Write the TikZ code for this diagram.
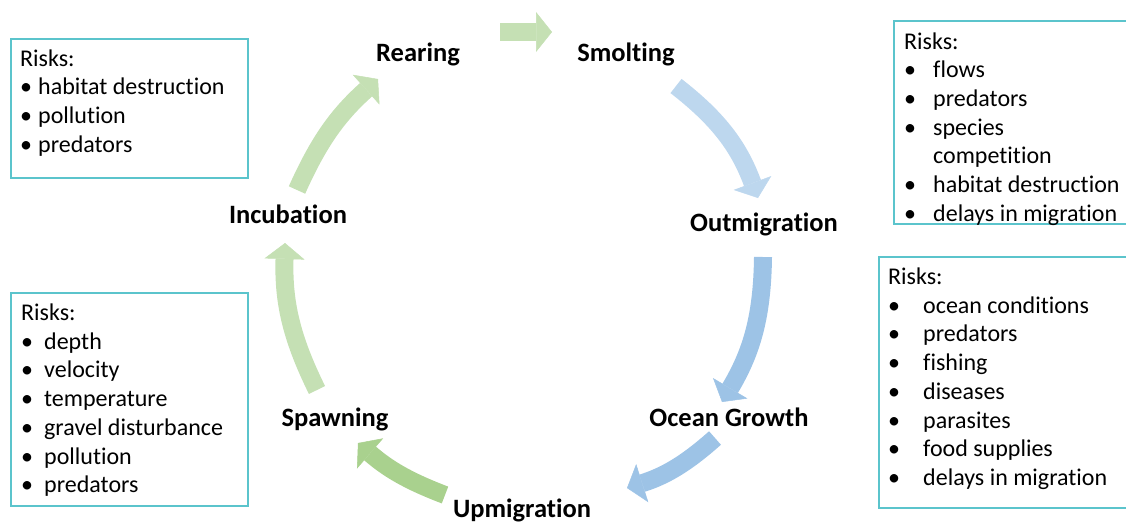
\documentclass[tikz,border=0pt]{standalone}
\usepackage{fontspec}
\setmainfont{Carlito}[Ligatures=NoCommon]
\usetikzlibrary{arrows.meta}
\definecolor{boxc}{RGB}{91,196,204}
\definecolor{gA}{HTML}{C5E0B4}
\definecolor{gB}{HTML}{A9D18E}
\definecolor{bA}{HTML}{BDD7EE}
\definecolor{bB}{HTML}{9DC3E6}
\newcommand{\bul}[1]{\makebox[#1][l]{\textbullet}}
\begin{document}
\begin{tikzpicture}[x=1pt,y=1pt,
  stage/.style={font=\fontsize{26.5}{30}\selectfont\bfseries, anchor=base, inner sep=0pt},
  risk/.style={font=\fontsize{24}{28.8}\selectfont, anchor=base west, inner sep=0pt},
  riskbox/.style={draw=boxc, line width=1.5pt, anchor=north west, inner sep=0pt},
  flow/.style={line width=18pt, -{Triangle[width=40pt,length=16pt,line width=0.5pt]}},
]
\useasboundingbox (0,0) rectangle (1126,-523);

% risk boxes
\node[riskbox, minimum width=237pt, minimum height=139pt] (tlbox) at (10,-38) {};
\node[riskbox, minimum width=240pt, minimum height=203pt] (trbox) at (893,-20) {};
\node[riskbox, minimum width=237pt, minimum height=213pt] (blbox) at (10,-292) {};
\node[riskbox, minimum width=255pt, minimum height=251pt] (mrbox) at (878,-256) {};

% top-left risks
\node[risk] (tlh) at (20,-66) {Risks:};
\foreach \t [count=\i] in {habitat destruction,pollution,predators}
  \node[risk] (tl\i) at (20,{-66-28.7*\i}) {\bul{18pt}\t};

% top-right risks
\node[risk] (trh) at (904,-49) {Risks:};
\node[risk] (tr1) at (904,-77.7) {\bul{29pt}flows};
\node[risk] (tr2) at (904,-106.4) {\bul{29pt}predators};
\node[risk] (tr3) at (904,-135.1) {\bul{29pt}species};
\node[risk] (tr4) at (904,-163.8) {\hspace{29pt}competition};
\node[risk] (tr5) at (904,-192.5) {\bul{29pt}habitat destruction};
\node[risk] (tr6) at (904,-221.2) {\bul{29pt}delays in migration};

% bottom-left risks
\node[risk] (blh) at (21,-320.5) {Risks:};
\foreach \t [count=\i] in {depth,velocity,temperature,gravel disturbance,pollution,predators}
  \node[risk] (bl\i) at (21,{-320.5-28.7*\i}) {\bul{23pt}\t};

% middle-right risks
\node[risk] (mrh) at (888,-284.5) {Risks:};
\foreach \t [count=\i] in {ocean conditions,predators,fishing,diseases,parasites,food supplies,delays in migration}
  \node[risk] (mr\i) at (888,{-284.5-28.7*\i}) {\bul{35pt}\t};

% stages
\node[stage] (rear) at (418,-61) {Rearing};
\node[stage] (smolt) at (626,-61) {Smolting};
\node[stage] (outm) at (764,-231) {Outmigration};
\node[stage] (ocean) at (729,-426) {Ocean Growth};
\node[stage] (upm) at (522,-517) {Upmigration};
\node[stage] (spawn) at (335,-426) {Spawning};
\node[stage] (incub) at (288,-223) {Incubation};

% arrow end points
\coordinate (a1s) at (500,-32);   \coordinate (a1e) at (552,-32);
\coordinate (a2s) at (676,-86);   \coordinate (a2e) at (758,-198);
\coordinate (a3s) at (763,-257);  \coordinate (a3e) at (722,-402);
\coordinate (a4s) at (715,-438);  \coordinate (a4e) at (627,-488);
\coordinate (a5s) at (445,-495);  \coordinate (a5e) at (358,-443);
\coordinate (a6s) at (317,-390);  \coordinate (a6e) at (285,-243);
\coordinate (a7s) at (297,-190);  \coordinate (a7e) at (378,-79);

\draw[flow, color=gA] (a1s) -- (a1e);
\draw[flow, color=bA] (a2s) to[bend left=16] (a2e);
\draw[flow, color=bB] (a3s) to[bend left=15] (a3e);
\draw[flow, color=bB] (a4s) to[bend left=12] (a4e);
\draw[flow, color=gB] (a5s) to[bend left=10] (a5e);
\draw[flow, color=gA] (a6s) to[bend left=14] (a6e);
\draw[flow, color=gA] (a7s) to[bend left=12] (a7e);
\end{tikzpicture}
\end{document}
